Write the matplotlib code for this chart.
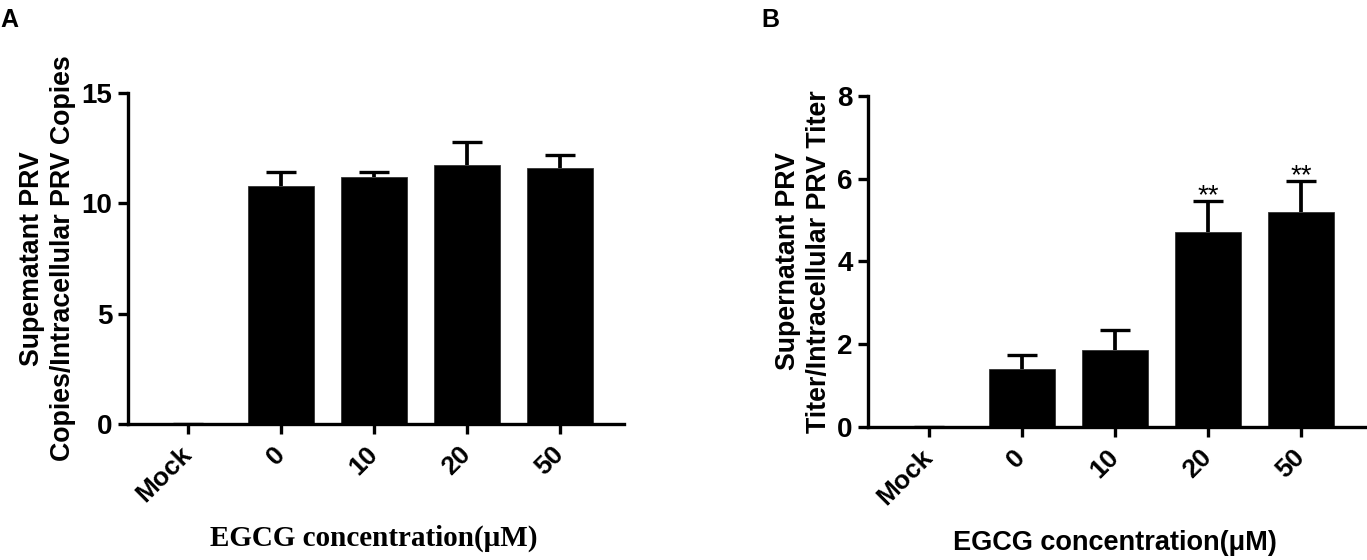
import matplotlib
matplotlib.use('Agg')
import matplotlib.pyplot as plt
import matplotlib.transforms as mtransforms
import numpy as np

# data
categories = ['Mock', '0', '10', '20', '50']
copies_mean = [0, 10.78, 11.17, 11.74, 11.58]
copies_err = [0, 0.66, 0.25, 1.05, 0.63]
titer_mean = [0, 1.40, 1.87, 4.71, 5.19]
titer_err = [0, 0.35, 0.47, 0.76, 0.76]
titer_sig = ['', '', '', '**', '**']

sans = 'Liberation Sans'
serif = 'Liberation Serif'
plt.rcParams['font.family'] = sans
plt.rcParams['font.weight'] = 'bold'

fig = plt.figure(figsize=(13.67, 5.6), dpi=100)
axA = fig.add_axes([0.0933, 0.2429, 0.3632, 0.5911])
axB = fig.add_axes([0.635, 0.2375, 0.3636, 0.5911])

lw = 2.4


def draw_panel(ax, means, errs, ymax, yticks):
    x = np.arange(len(categories))
    ax.bar(x, means, width=0.71, color='black', edgecolor='#333333', linewidth=0.6, zorder=2)
    eb = ax.errorbar(x, means, yerr=[np.zeros(len(errs)), errs], fmt='none', ecolor='black',
                     elinewidth=lw + 0.3, capsize=11, capthick=lw, zorder=1)
    eb[1][0].set_visible(False)  # no lower caps
    ax.set_xlim(-0.65, 4.69)
    ax.set_ylim(0, ymax)
    ax.set_yticks(yticks)
    ax.set_xticks(x)
    ax.set_xticklabels(categories, rotation=45, ha='right', va='center',
                       rotation_mode='anchor', fontsize=19, fontweight='bold')
    shift = mtransforms.ScaledTranslation(5 / 100, 0, fig.dpi_scale_trans)
    for lab in ax.get_xticklabels():
        lab.set_transform(lab.get_transform() + shift)
    for lab in ax.get_yticklabels():
        lab.set_fontsize(20)
        lab.set_fontweight('bold')
    ax.spines['top'].set_visible(False)
    ax.spines['right'].set_visible(False)
    ax.spines['left'].set_linewidth(lw)
    ax.spines['bottom'].set_linewidth(lw)
    ax.spines['left'].set_bounds(0, ymax)
    ax.tick_params(axis='both', length=7, width=lw, pad=4)
    ax.tick_params(axis='x', pad=12)


draw_panel(axA, copies_mean, copies_err, 15, [0, 5, 10, 15])
draw_panel(axB, titer_mean, titer_err, 8, [0, 2, 4, 6, 8])

axA.set_ylabel('Supematant PRV\nCopies/Intracellular PRV Copies', fontsize=19.3,
               fontweight='bold', linespacing=1.25)
axA.yaxis.set_label_coords(-0.104, 0.5)
axB.set_ylabel('Supernatant PRV\nTiter/Intracellular PRV Titer', fontsize=19.3,
               fontweight='bold', linespacing=1.25)
axB.yaxis.set_label_coords(-0.072, 0.5)

# significance marks
for i, s in enumerate(titer_sig):
    if s:
        axB.annotate(s, (i, titer_mean[i] + titer_err[i]), xytext=(0, -2),
                     textcoords='offset points', ha='center', va='baseline',
                     fontsize=20, fontweight='normal')

# x labels centred on the categories
trA = mtransforms.blended_transform_factory(axA.transData, axA.transAxes)
axA.text(2, -0.345, 'EGCG concentration(\u03bcM)', transform=trA, ha='center', va='center',
         fontsize=21, fontweight='bold', family=serif)
trB = mtransforms.blended_transform_factory(axB.transData, axB.transAxes)
axB.text(2, -0.35, 'EGCG concentration(\u03bcM)', transform=trB, ha='center', va='center',
         fontsize=19.5, fontweight='bold', family=sans)

fig.text(0.0, 0.965, 'A', fontsize=18, fontweight='bold', ha='left', va='center')
fig.text(0.557, 0.965, 'B', fontsize=18, fontweight='bold', ha='left', va='center')

plt.savefig('out.png', dpi=100)
